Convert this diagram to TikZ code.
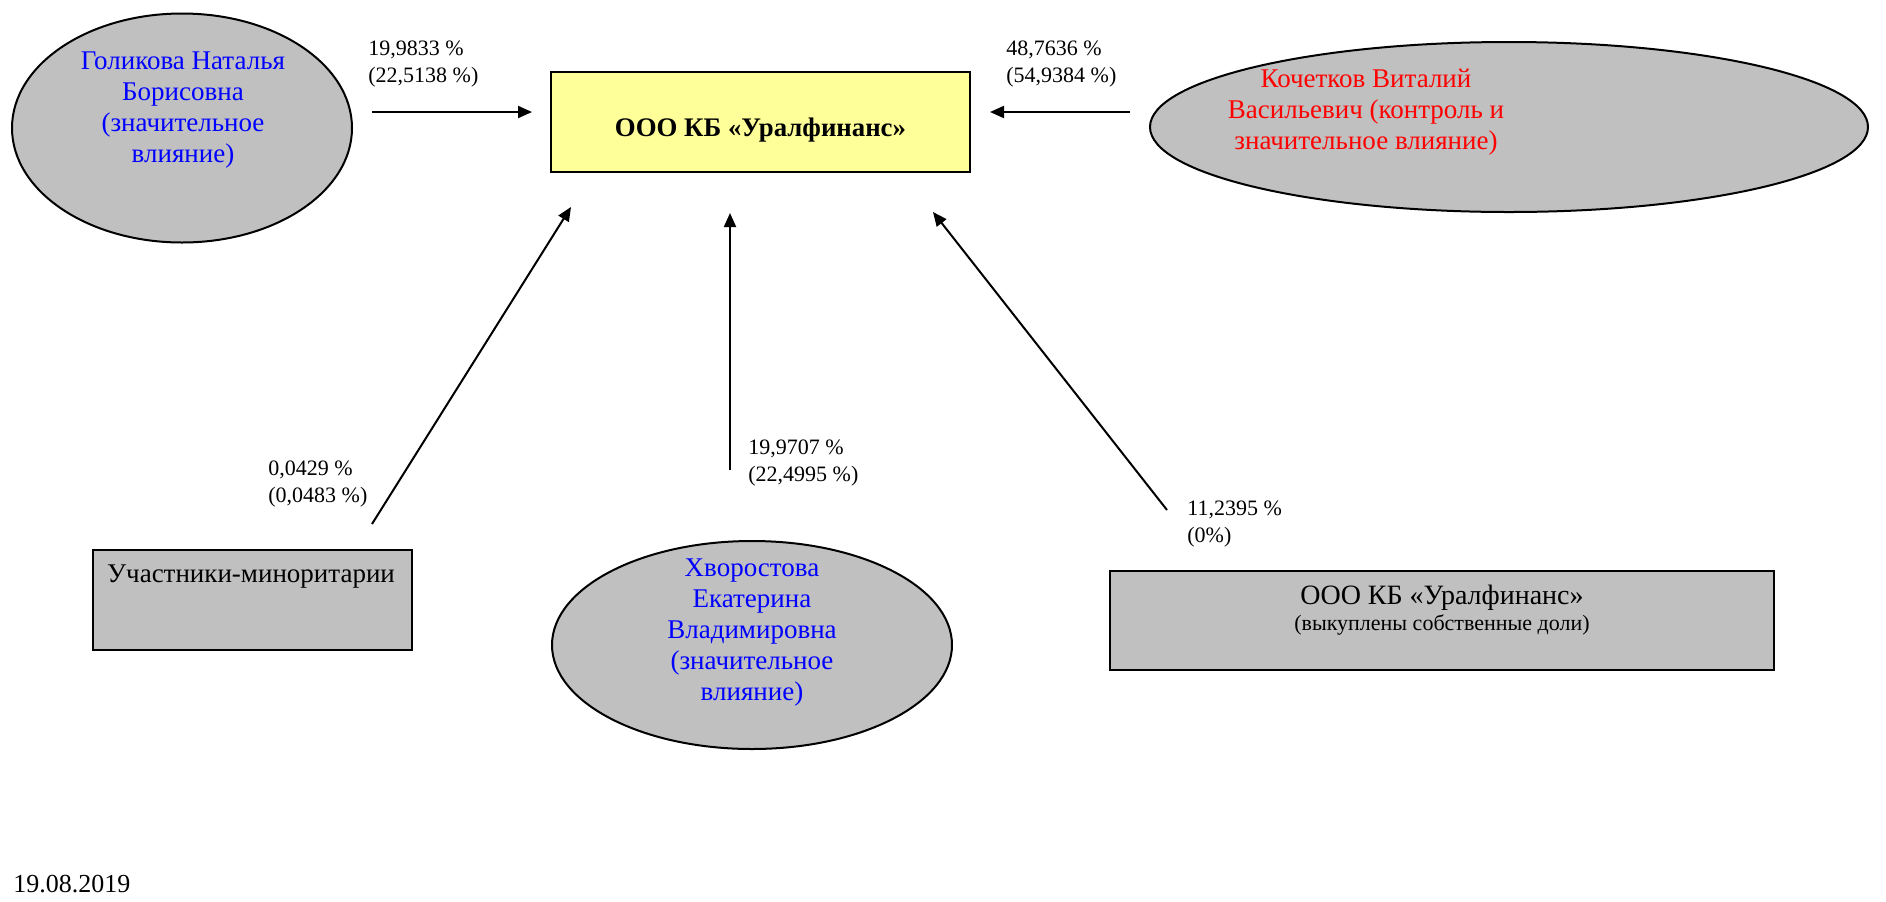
\documentclass[tikz,border=0pt]{standalone}
\usepackage{fontspec}
\setmainfont{Liberation Serif}
\usetikzlibrary{arrows.meta,shapes.geometric}
\definecolor{shgray}{HTML}{C0C0C0}
\definecolor{shyellow}{HTML}{FFFF99}
\definecolor{shblue}{HTML}{0000FF}
\definecolor{shred}{HTML}{FF0000}
\begin{document}
\begin{tikzpicture}[x=0.5pt,y=-0.5pt,
  ell/.style={draw=black, line width=1pt, fill=shgray, ellipse, inner sep=0pt},
  graybox/.style={draw=black, line width=1pt, fill=shgray, rectangle, inner sep=0pt},
  mainbox/.style={draw=black, line width=1pt, fill=shyellow, rectangle, inner sep=0pt},
  etext/.style={align=center, inner sep=0pt, font=\fontsize{13.5}{15.5}\selectfont},
  pct/.style={align=left, anchor=north west, inner sep=0pt, font=\fontsize{11}{13.5}\selectfont},
  arr/.style={line width=1pt, -{Triangle[length=7pt,width=6pt]}}
]
\useasboundingbox (0,0) rectangle (1886,901);

% shapes
\node[ell, minimum width=170pt, minimum height=114.5pt] (gol) at (182,128) {};
\node[etext, text=shblue] (goltxt) at (183,110) {Голикова Наталья\\Борисовна\\(значительное\\влияние)};

\node[ell, minimum width=359pt, minimum height=85pt] (koch) at (1509,127) {};
\node[etext, text=shred] (kochtxt) at (1366,112) {Кочетков Виталий\\Васильевич (контроль и\\значительное влияние)};

\node[ell, minimum width=200pt, minimum height=104pt] (hvor) at (752,645) {};
\node[etext, text=shblue] (hvortxt) at (752,633) {Хворостова\\Екатерина\\Владимировна\\(значительное\\влияние)};

\node[mainbox, minimum width=209.5pt, minimum height=50pt] (bank) at (760.5,122) {};
\node[inner sep=0pt, font=\fontsize{13.4}{15}\selectfont\bfseries] (banktxt) at (760.5,130) {ООО КБ «Уралфинанс»};

\node[graybox, minimum width=159.5pt, minimum height=50pt] (minor) at (252.5,600) {};
\node[inner sep=0pt, font=\fontsize{13.5}{16}\selectfont] (minortxt) at (251,577) {Участники-миноритарии};

\node[graybox, minimum width=332pt, minimum height=49.5pt] (own) at (1442,620.5) {};
\node[inner sep=0pt, align=center] (owntxt) at (1442,610) {{\fontsize{14}{16}\selectfont ООО КБ «Уралфинанс»}\\[1pt]{\fontsize{11}{13}\selectfont (выкуплены собственные доли)}};

% labels
\node[pct] (l1) at (368,40) {19,9833 \%\\(22,5138 \%)};
\node[pct] (l2) at (1006,40) {48,7636 \%\\(54,9384 \%)};
\node[pct] (l3) at (268,460) {0,0429 \%\\(0,0483 \%)};
\node[pct] (l4) at (748,439) {19,9707 \%\\(22,4995 \%)};
\node[pct] (l5) at (1187,500) {11,2395 \%\\(0\%)};
\node[anchor=north west, inner sep=0pt, font=\fontsize{13}{15}\selectfont] (date) at (13,875) {19.08.2019};

% connector ends
\coordinate (a1s) at (372,112); \coordinate (a1e) at (532,112);
\coordinate (a2s) at (1130,112); \coordinate (a2e) at (990,112);
\coordinate (a3s) at (372,524); \coordinate (a3e) at (571,207);
\coordinate (a4s) at (730,470); \coordinate (a4e) at (730,213);
\coordinate (a5s) at (1167,510); \coordinate (a5e) at (933,212);

\draw[arr] (a1s) -- (a1e);
\draw[arr] (a2s) -- (a2e);
\draw[arr] (a3s) -- (a3e);
\draw[arr] (a4s) -- (a4e);
\draw[arr] (a5s) -- (a5e);
\end{tikzpicture}
\end{document}
